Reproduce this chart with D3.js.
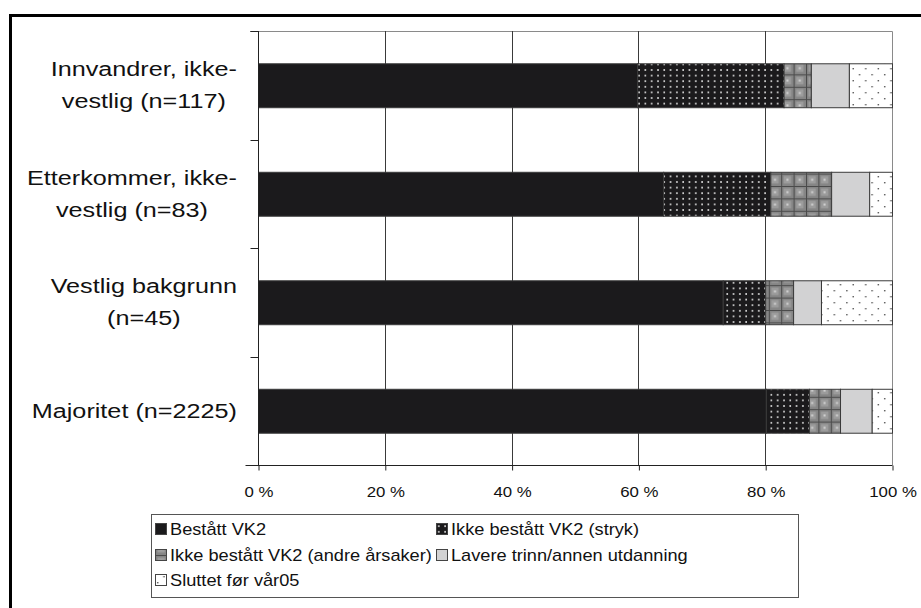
<!DOCTYPE html>
<meta charset="utf-8">
<style>
body { margin: 0; background: #fff; }
svg { display: block; font-family: "Liberation Sans", Arial, sans-serif; }
.grid line { stroke: #3a3a3a; stroke-width: 1; }
.seg { stroke: #3a3a3a; stroke-width: 1; }
</style>
<svg width="921" height="608"></svg>
<script src="https://d3js.org/d3.v7.min.js"></script>
<script>

// data (percent of each group)
var groups = [
  ["Innvandrer, ikke-", "vestlig (n=117)"],
  ["Etterkommer, ikke-", "vestlig (n=83)"],
  ["Vestlig bakgrunn", "(n=45)"],
  ["Majoritet (n=2225)"]
];
var series = [
  "Bestått VK2",
  "Ikke bestått VK2 (stryk)",
  "Ikke bestått VK2 (andre årsaker)",
  "Lavere trinn/annen utdanning",
  "Sluttet før vår05"
];
var bestatt = [59.8, 63.9, 73.3, 80.1];
var stryk   = [23.1, 16.9, 6.7, 6.8];
var andre   = [4.3, 9.6, 4.4, 4.9];
var lavere  = [6.0, 6.0, 4.4, 5.0];
var sluttet = [6.8, 3.6, 11.2, 3.2];
var ticks = [0, 20, 40, 60, 80, 100];

var svg = d3.select("svg");

// text in the picture is drawn a bit wide
function stretch(sel, k) {
  sel.each(function() {
    var len = this.getComputedTextLength();
    d3.select(this).attr("textLength", len * k).attr("lengthAdjust", "spacingAndGlyphs");
  });
}

// patterns
var defs = svg.append("defs");

var pStryk = defs.append("pattern").attr("id", "p-stryk")
    .attr("patternUnits", "userSpaceOnUse").attr("width", 6.3).attr("height", 5.6);
pStryk.append("rect").attr("width", 6.3).attr("height", 5.6).attr("fill", "#1b1a1c");
pStryk.append("rect").attr("x", 2).attr("y", 2).attr("width", 1.6).attr("height", 1.6).attr("fill", "#ececec");

var pAndre = defs.append("pattern").attr("id", "p-andre")
    .attr("patternUnits", "userSpaceOnUse").attr("width", 12.4).attr("height", 12.4);
pAndre.append("rect").attr("width", 12.4).attr("height", 12.4).attr("fill", "#858585");
pAndre.append("rect").attr("x", 2.5).attr("y", 2.5).attr("width", 7.4).attr("height", 7.4).attr("fill", "#9c9c9c");
pAndre.append("rect").attr("x", 5.2).attr("y", 5.2).attr("width", 2).attr("height", 2).attr("fill", "#d4d4d4");
pAndre.append("path").attr("d", "M0,0.5H12.4M0.5,0V12.4").attr("stroke", "#4a4a4a").attr("stroke-width", 1);

var pSlutt = defs.append("pattern").attr("id", "p-slutt")
    .attr("patternUnits", "userSpaceOnUse").attr("width", 12.6).attr("height", 12);
pSlutt.append("rect").attr("width", 12.6).attr("height", 12).attr("fill", "#fff");
pSlutt.append("rect").attr("x", 2).attr("y", 2).attr("width", 1.4).attr("height", 1.4).attr("fill", "#555");
pSlutt.append("rect").attr("x", 8.3).attr("y", 8).attr("width", 1.4).attr("height", 1.4).attr("fill", "#555");

var fills = ["#1b1a1c", "url(#p-stryk)", "url(#p-andre)", "#d2d2d3", "url(#p-slutt)"];

// outer frame
svg.append("rect")
    .attr("x", 10.5).attr("y", 15.5).attr("width", 940).attr("height", 620)
    .attr("fill", "none").attr("stroke", "#000").attr("stroke-width", 3);

var x = d3.scaleLinear().domain([0, 100]).range([258, 892]);
var y = d3.scaleBand().domain(d3.range(groups.length)).range([31, 465])
    .paddingInner(0.595).paddingOuter(0.2975);

// plot border (top + right), grid
svg.append("path")
    .attr("d", "M" + (x(0) - 8) + "," + 31.5 + "H" + (x(100) + 0.5) + "V465")
    .attr("fill", "none").attr("stroke", "#8a8a8a");

svg.append("g").attr("class", "grid")
  .selectAll("line")
  .data(ticks.slice(1, -1))
  .join("line")
    .attr("x1", function(d) { return Math.round(x(d)) + 0.5; })
    .attr("x2", function(d) { return Math.round(x(d)) + 0.5; })
    .attr("y1", 31).attr("y2", 465);

// stacked bars
var rows = groups.map(function(g, i) {
  return [bestatt[i], stryk[i], andre[i], lavere[i], sluttet[i]];
});
var stack = d3.stack().keys(d3.range(series.length))(rows);

svg.append("g")
  .selectAll("g")
  .data(stack)
  .join("g")
    .attr("fill", function(d, i) { return fills[i]; })
  .selectAll("rect")
  .data(function(d) { return d; })
  .join("rect")
    .attr("class", "seg")
    .attr("x", function(d) { return x(d[0]) + 0.5; })
    .attr("width", function(d) { return x(d[1]) - x(d[0]); })
    .attr("y", function(d, i) { return y(i) + 0.5; })
    .attr("height", y.bandwidth());

// x axis
var xAxis = svg.append("g")
    .attr("transform", "translate(0.5,465.5)")
    .call(d3.axisBottom(x).tickValues(ticks).tickSize(5).tickFormat(function(d) { return d + " %"; }));
xAxis.select(".domain").attr("d", "M" + (x(0) - 13) + ",0H" + x(100)).attr("stroke", "#222");
xAxis.selectAll(".tick line").attr("stroke", "#222");
xAxis.selectAll(".tick text")
    .attr("y", 22).attr("dy", "0.71em")
    .attr("font-size", 14).attr("fill", "#111")
    .call(stretch, 1.2);

// y axis line + category ticks
var yAxis = svg.append("g").attr("transform", "translate(" + (x(0) + 0.5) + ",0)");
yAxis.append("line").attr("y1", 31).attr("y2", 465).attr("stroke", "#222");
yAxis.selectAll(".ct")
  .data(d3.range(groups.length + 1))
  .join("line")
    .attr("class", "ct")
    .attr("x1", -8).attr("x2", 0)
    .attr("y1", function(d) { return Math.round(31 + d * y.step()) + 0.5; })
    .attr("y2", function(d) { return Math.round(31 + d * y.step()) + 0.5; })
    .attr("stroke", "#222");

// category labels: block right aligned, lines centered
var labelRight = 237;
groups.forEach(function(lines, i) {
  var cy = y(i) + y.bandwidth() / 2;
  var g = svg.append("g");
  var t = g.selectAll("text")
    .data(lines)
    .join("text")
      .attr("font-size", 20)
      .attr("fill", "#111")
      .attr("text-anchor", "middle")
      .attr("y", function(d, j) { return cy + (j - (lines.length - 1) / 2) * 32 + 7; })
      .text(function(d) { return d; })
      .call(stretch, 1.26);
  var w = d3.max(t.nodes(), function(n) { return +n.getAttribute("textLength"); });
  t.attr("x", labelRight - w / 2);
});

// legend
var legend = svg.append("g");
legend.append("rect")
    .attr("x", 151.5).attr("y", 514.5).attr("width", 647).attr("height", 83)
    .attr("fill", "#fff").attr("stroke", "#555");

var legPos = [[155, 529], [436, 529], [155, 555], [436, 555], [155, 580]];
var item = legend.selectAll(".item")
  .data(series)
  .join("g")
    .attr("class", "item")
    .attr("transform", function(d, i) { return "translate(" + legPos[i][0] + "," + legPos[i][1] + ")"; });
item.append("rect")
    .attr("x", 0.5).attr("y", -5.5).attr("width", 11).attr("height", 11)
    .attr("fill", function(d, i) { return fills[i]; })
    .attr("stroke", "#444");
item.append("text")
    .attr("x", 15).attr("y", 6)
    .attr("font-size", 17)
    .attr("fill", "#111")
    .text(function(d) { return d; })
    .call(stretch, 1.07);

</script>
